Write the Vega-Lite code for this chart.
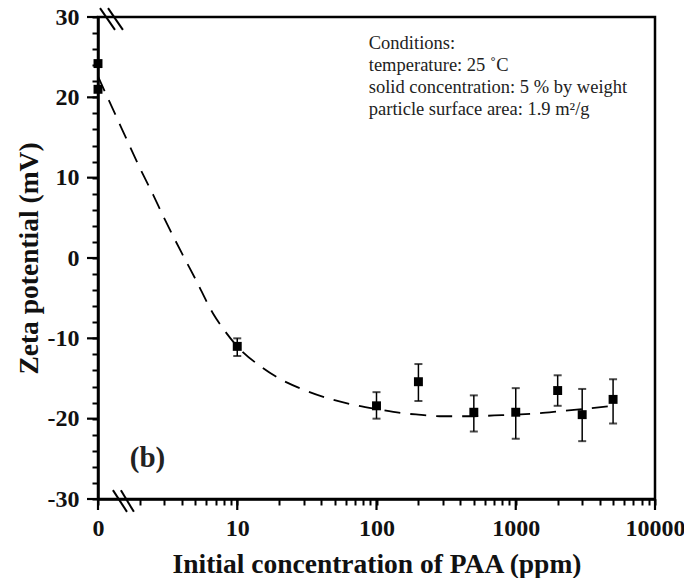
{
  "$schema": "https://vega.github.io/schema/vega-lite/v6.json",
  "width": 557,
  "height": 482,
  "autosize": {"type": "none"},
  "padding": {"left": 98, "top": 17, "right": 29, "bottom": 79},
  "background": "white",
  "resolve": {"axis": {"x": "independent", "y": "independent"}},
  "config": {
    "view": {"stroke": "black", "strokeWidth": 2.5},
    "font": "Liberation Serif",
    "axis": {
      "grid": false,
      "domainColor": "black",
      "domainWidth": 2.5,
      "tickColor": "black",
      "tickWidth": 2,
      "tickSize": 6,
      "labelFont": "Liberation Serif",
      "labelFontWeight": "bold",
      "labelFontSize": 24,
      "labelColor": "#111",
      "titleFont": "Liberation Serif",
      "titleFontWeight": "bold",
      "titleFontSize": 27.5,
      "titleColor": "#111"
    }
  },
  "datasets": {
    "points": [
      {"ppm": 1, "zeta": 24.2, "lo": 24.2, "hi": 24.2},
      {"ppm": 1, "zeta": 21.0, "lo": 21.0, "hi": 21.0},
      {"ppm": 10, "zeta": -11.0, "lo": -12.2, "hi": -10.0},
      {"ppm": 100, "zeta": -18.4, "lo": -20.0, "hi": -16.7},
      {"ppm": 200, "zeta": -15.4, "lo": -17.8, "hi": -13.2},
      {"ppm": 500, "zeta": -19.2, "lo": -21.6, "hi": -17.1},
      {"ppm": 1000, "zeta": -19.2, "lo": -22.5, "hi": -16.2},
      {"ppm": 2000, "zeta": -16.5, "lo": -18.4, "hi": -14.6},
      {"ppm": 3000, "zeta": -19.5, "lo": -22.8, "hi": -16.3},
      {"ppm": 5000, "zeta": -17.6, "lo": -20.6, "hi": -15.1}
    ],
    "curve": [
      {"ppm": 1, "zeta": 22.6},
      {"ppm": 1.5, "zeta": 15.9},
      {"ppm": 2, "zeta": 11.2},
      {"ppm": 2.5, "zeta": 7.8},
      {"ppm": 3, "zeta": 4.9},
      {"ppm": 4, "zeta": 0.6},
      {"ppm": 5, "zeta": -2.6},
      {"ppm": 6.7, "zeta": -6.9},
      {"ppm": 8, "zeta": -8.9},
      {"ppm": 10, "zeta": -11.0},
      {"ppm": 15, "zeta": -13.6},
      {"ppm": 20, "zeta": -15.0},
      {"ppm": 30, "zeta": -16.4},
      {"ppm": 50, "zeta": -17.7},
      {"ppm": 70, "zeta": -18.3},
      {"ppm": 100, "zeta": -18.8},
      {"ppm": 150, "zeta": -19.3},
      {"ppm": 200, "zeta": -19.5},
      {"ppm": 300, "zeta": -19.7},
      {"ppm": 500, "zeta": -19.7},
      {"ppm": 700, "zeta": -19.6},
      {"ppm": 1000, "zeta": -19.5},
      {"ppm": 1500, "zeta": -19.3},
      {"ppm": 2000, "zeta": -19.1},
      {"ppm": 3000, "zeta": -18.8},
      {"ppm": 5000, "zeta": -18.4}
    ],
    "breaks": [
      {"x1": 1.034, "x2": 1.325, "y1": 31.1, "y2": 28.4},
      {"x1": 1.18, "x2": 1.51, "y1": 31.1, "y2": 28.4},
      {"x1": 1.28, "x2": 1.615, "y1": -28.9, "y2": -31.6},
      {"x1": 1.46, "x2": 1.81, "y1": -28.9, "y2": -31.6}
    ],
    "ytickmajor": [
      {"v": -30}, {"v": -20}, {"v": -10}, {"v": 0}, {"v": 10}, {"v": 20}, {"v": 30}
    ],
    "xtickmajor": [
      {"v": 1}, {"v": 10}, {"v": 100}, {"v": 1000}, {"v": 10000}
    ],
    "notes": [
      {"ppm": 88, "zeta": 26.75, "note": "Conditions:"},
      {"ppm": 88, "zeta": 24.0, "note": "temperature: 25 ˚C"},
      {"ppm": 88, "zeta": 21.25, "note": "solid concentration: 5 % by weight"},
      {"ppm": 88, "zeta": 18.5, "note": "particle surface area: 1.9 m²/g"}
    ],
    "panel": [
      {"ppm": 1.69, "zeta": -24.9, "note": "(b)"}
    ]
  },
  "layer": [
    {
      "data": {"name": "curve"},
      "mark": {"type": "line", "color": "black", "strokeWidth": 1.8, "strokeDash": [16, 10], "interpolate": "monotone"},
      "encoding": {
        "x": {
          "field": "ppm", "type": "quantitative",
          "scale": {"type": "log", "domain": [1, 10000], "nice": false},
          "axis": {
            "title": "Initial concentration of PAA (ppm)",
            "values": [1,2,3,4,5,6,7,8,9,10,20,30,40,50,60,70,80,90,100,200,300,400,500,600,700,800,900,1000,2000,3000,4000,5000,6000,7000,8000,9000,10000],
            "labelExpr": "datum.value == 1 ? '0' : (indexof([10,100,1000,10000], datum.value) >= 0 ? '' + datum.value : '')",
            "labelOverlap": false,
            "labelFlush": false,
            "labelPadding": 11,
            "titlePadding": 10
          }
        },
        "y": {
          "field": "zeta", "type": "quantitative",
          "scale": {"domain": [-30, 30], "nice": false},
          "axis": {
            "title": "Zeta potential (mV)",
            "values": [-30,-28,-26,-24,-22,-20,-18,-16,-14,-12,-10,-8,-6,-4,-2,0,2,4,6,8,10,12,14,16,18,20,22,24,26,28,30],
            "labelExpr": "indexof([-30,-20,-10,0,10,20,30], datum.value) >= 0 ? '' + datum.value : ''",
            "labelOverlap": false,
            "labelFlush": false,
            "labelPadding": 13,
            "titlePadding": 4
          }
        }
      }
    },
    {
      "data": {"name": "ytickmajor"},
      "mark": {"type": "rule", "color": "black", "strokeWidth": 2.2},
      "encoding": {
        "x": {"datum": 0.834, "type": "quantitative", "axis": null},
        "x2": {"datum": 1},
        "y": {"field": "v", "type": "quantitative", "axis": null}
      }
    },
    {
      "data": {"name": "xtickmajor"},
      "mark": {"type": "rule", "color": "black", "strokeWidth": 2.2},
      "encoding": {
        "x": {"field": "v", "type": "quantitative", "axis": null},
        "y": {"datum": -30, "type": "quantitative", "axis": null},
        "y2": {"datum": -31.37}
      }
    },
    {
      "data": {"name": "points"},
      "mark": {"type": "rule", "color": "black", "strokeWidth": 1.5},
      "encoding": {
        "x": {"field": "ppm", "type": "quantitative", "axis": null},
        "y": {"field": "lo", "type": "quantitative", "axis": null},
        "y2": {"field": "hi"}
      }
    },
    {
      "data": {"name": "points"},
      "mark": {"type": "tick", "color": "black", "orient": "horizontal", "size": 8, "thickness": 2},
      "encoding": {
        "x": {"field": "ppm", "type": "quantitative", "axis": null},
        "y": {"field": "lo", "type": "quantitative", "axis": null}
      }
    },
    {
      "data": {"name": "points"},
      "mark": {"type": "tick", "color": "black", "orient": "horizontal", "size": 8, "thickness": 2},
      "encoding": {
        "x": {"field": "ppm", "type": "quantitative", "axis": null},
        "y": {"field": "hi", "type": "quantitative", "axis": null}
      }
    },
    {
      "data": {"name": "points"},
      "mark": {"type": "point", "shape": "square", "filled": true, "color": "black", "opacity": 1, "size": 80},
      "encoding": {
        "x": {"field": "ppm", "type": "quantitative", "axis": null},
        "y": {"field": "zeta", "type": "quantitative", "axis": null}
      }
    },
    {
      "data": {"name": "breaks"},
      "mark": {"type": "rule", "color": "black", "strokeWidth": 2},
      "encoding": {
        "x": {"field": "x1", "type": "quantitative", "axis": null},
        "x2": {"field": "x2"},
        "y": {"field": "y1", "type": "quantitative", "axis": null},
        "y2": {"field": "y2"}
      }
    },
    {
      "data": {"name": "notes"},
      "mark": {"type": "text", "font": "Liberation Serif", "fontSize": 18.5, "align": "left", "baseline": "middle", "color": "#222"},
      "encoding": {
        "x": {"field": "ppm", "type": "quantitative", "axis": null},
        "y": {"field": "zeta", "type": "quantitative", "axis": null},
        "text": {"field": "note"}
      }
    },
    {
      "data": {"name": "panel"},
      "mark": {"type": "text", "font": "Liberation Serif", "fontSize": 29, "fontWeight": "bold", "align": "left", "baseline": "middle", "color": "#222"},
      "encoding": {
        "x": {"field": "ppm", "type": "quantitative", "axis": null},
        "y": {"field": "zeta", "type": "quantitative", "axis": null},
        "text": {"field": "note"}
      }
    }
  ]
}
